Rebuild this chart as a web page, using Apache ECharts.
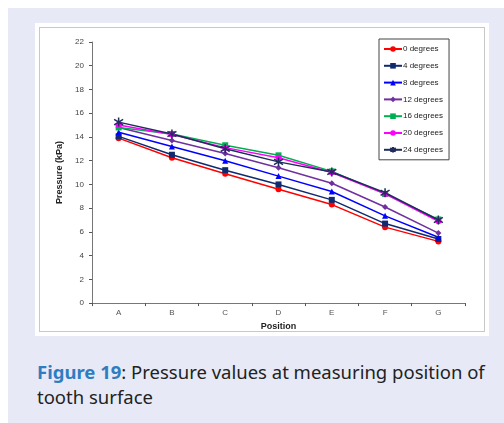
<!DOCTYPE html>
<html>
<head>
<meta charset="utf-8">
<script src="https://cdn.jsdelivr.net/npm/echarts@6/dist/echarts.min.js"></script>
<style>
  html, body { margin: 0; padding: 0; background: #fff; }
  #page { position: absolute; left: 8px; top: 8px; width: 496px; height: 415px; background: #e7eaf6; }
  #panel { position: absolute; left: 27px; top: 15px; width: 454px; height: 313px; background: #fff; }
  #chart { position: absolute; left: 0; top: 0; width: 454px; height: 313px; }
  #frame { position: absolute; left: 4px; top: 4px; right: 4px; bottom: 4px; border: 1px solid #c8c8c8; pointer-events: none; }
  #caption { position: absolute; left: 29px; top: 351px; width: 460px; font-family: "Noto Sans", "Open Sans", sans-serif; font-size: 18.5px; line-height: 25px; color: #222; }
  #caption b { color: #2f7dc1; }
</style>
</head>
<body>
<div id="page">
  <div id="panel"><div id="chart"></div><div id="frame"></div></div>
  <div id="caption"><b>Figure 19</b>: Pressure values at measuring position of<br>tooth surface</div>
</div>
<script>
// positions along the tooth surface
var positions = ['A', 'B', 'C', 'D', 'E', 'F', 'G'];
var seriesNames = ['0 degrees', '4 degrees', '8 degrees', '12 degrees', '16 degrees', '20 degrees', '24 degrees'];

// pressure (kPa)
var deg0  = [13.9, 12.25, 10.9, 9.6, 8.3, 6.4, 5.2];
var deg4  = [14.05, 12.5, 11.2, 10.0, 8.7, 6.7, 5.4];
var deg8  = [14.4, 13.2, 12.0, 10.7, 9.4, 7.35, 5.55];
var deg12 = [14.8, 13.7, 12.6, 11.4, 10.1, 8.1, 5.9];
var deg16 = [14.8, 14.25, 13.3, 12.45, 11.1, 9.2, 7.05];
var deg20 = [15.0, 14.2, 13.1, 12.25, 11.0, 9.2, 6.9];
var deg24 = [15.25, 14.25, 13.0, 11.9, 11.05, 9.3, 7.0];

var colors = ['#ff0000', '#0f2a6e', '#0000ff', '#7030a0', '#00b050', '#ff00ff', '#1f2d5c'];
var symbols = ['circle', 'rect', 'triangle', 'diamond', 'rect', 'circle',
  'path://M0,-10L0,10M-9,-6L9,6M-9,6L9,-6'];
var allData = [deg0, deg4, deg8, deg12, deg16, deg20, deg24];

var chart = echarts.init(document.getElementById('chart'));

var series = allData.map(function (d, i) {
  var isStar = i === 6;
  return {
    name: seriesNames[i],
    type: 'line',
    data: d,
    symbol: symbols[i],
    symbolSize: isStar ? 9 : 6,
    lineStyle: { color: colors[i], width: 1.5 },
    itemStyle: {
      color: colors[i],
      borderColor: colors[i],
      borderWidth: isStar ? 1.5 : 0
    },
    emphasis: { disabled: true },
    animation: false
  };
});

chart.setOption({
  textStyle: { fontFamily: 'Liberation Sans, sans-serif' },
  grid: { left: 57, right: 24, top: 19, bottom: 29 },
  legend: {
    orient: 'vertical',
    left: 344,
    top: 16,
    padding: [6, 6, 6, 4],
    itemGap: 8.8,
    itemWidth: 18,
    itemHeight: 7,
    borderColor: '#444',
    borderWidth: 1,
    textStyle: { fontSize: 8, color: '#222', padding: [0, 0, 0, -4] },
    data: seriesNames
  },
  xAxis: {
    type: 'category',
    data: positions,
    boundaryGap: true,
    name: 'Position',
    nameLocation: 'middle',
    nameGap: 12,
    nameTextStyle: { fontSize: 9, fontWeight: 'bold', color: '#222' },
    axisLine: { lineStyle: { color: '#777', width: 1 } },
    axisTick: { show: true, length: 3, lineStyle: { color: '#555' } },
    axisLabel: { fontSize: 8, color: '#555', margin: 6 },
    splitLine: { show: false }
  },
  yAxis: {
    type: 'value',
    min: 0,
    max: 22,
    interval: 2,
    name: 'Pressure (kPa)',
    nameLocation: 'middle',
    nameGap: 23,
    nameTextStyle: { fontSize: 9, fontWeight: 'bold', color: '#222' },
    axisLine: { show: true, lineStyle: { color: '#777', width: 1 } },
    axisTick: { show: true, length: 3, lineStyle: { color: '#555' } },
    axisLabel: { fontSize: 8, color: '#444', margin: 8 },
    splitLine: { show: false }
  },
  series: series
});
</script>
</body>
</html>
